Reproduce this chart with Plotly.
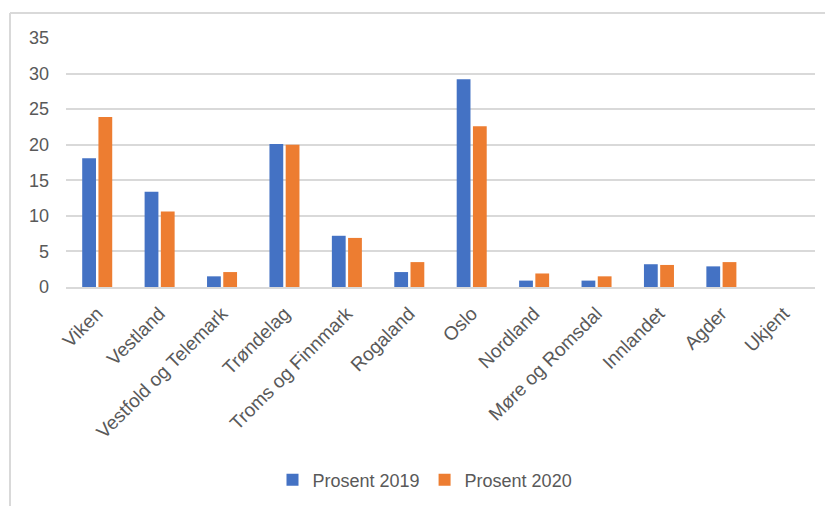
import plotly.graph_objects as go

categories = ["Viken", "Vestland", "Vestfold og Telemark", "Trøndelag", "Troms og Finnmark",
              "Rogaland", "Oslo", "Nordland", "Møre og Romsdal", "Innlandet", "Agder", "Ukjent"]
prosent_2019 = [18.1, 13.4, 1.5, 20.1, 7.2, 2.1, 29.2, 0.9, 0.9, 3.2, 2.9, 0]
prosent_2020 = [23.9, 10.6, 2.1, 20.0, 6.9, 3.5, 22.6, 1.9, 1.5, 3.1, 3.5, 0]
y_ticks = [0, 5, 10, 15, 20, 25, 30, 35]

OFF = 8  # default page body margin
W, H = 833 - OFF, 506 - OFF
# plot area in page pixels: x 66..815, y 38..287
L, T = 66 - OFF, 38 - OFF
R = W - (815 - OFF)
B = H - (287 - OFF)
FONT = "Liberation Sans"
GREY = "#595959"

fig = go.Figure()
fig.add_trace(go.Bar(x=categories, y=prosent_2019, name="Prosent 2019",
                     marker=dict(color="#4472C4", line=dict(width=0))))
fig.add_trace(go.Bar(x=categories, y=prosent_2020, name="Prosent 2020",
                     marker=dict(color="#ED7D31", line=dict(width=0))))

pw, ph = W - L - R, H - T - B
def px2paper(x, y):
    # page pixel -> paper coords
    x -= OFF
    y -= OFF
    return (x - L) / pw, (H - B - y) / ph

x0, y0 = px2paper(10, 13)
x1, y1 = px2paper(840, 520)
fig.add_shape(type="line", xref="paper", yref="paper", x0=x0, y0=y0, x1=x1, y1=y0,
              line=dict(color="#d9d9d9", width=2))
fig.add_shape(type="line", xref="paper", yref="paper", x0=x0, y0=y0, x1=x0, y1=y1,
              line=dict(color="#d9d9d9", width=2))

lx, ly = px2paper(425, 480)
fig.update_layout(
    width=W, height=H,
    margin=dict(l=L, r=R, t=T, b=B, autoexpand=False),
    paper_bgcolor="white", plot_bgcolor="white",
    barmode="group", bargap=0.48, bargroupgap=0.15,
    font=dict(family=FONT, color=GREY),
    showlegend=True,
    legend=dict(orientation="h", x=lx, y=ly, xanchor="center", yanchor="middle",
                font=dict(size=18, color=GREY, family=FONT), itemwidth=30,
                traceorder="normal"),
    xaxis=dict(tickangle=-45, tickfont=dict(size=19, color=GREY, family=FONT),
               showline=True, linecolor="#d9d9d9", linewidth=2, showgrid=False,
               ticks="", fixedrange=True, ticklabelstandoff=6),
    yaxis=dict(range=[0, 35], tickvals=y_ticks, showgrid=True, gridcolor="#d9d9d9",
               gridwidth=2, zeroline=False, showline=False,
               tickfont=dict(size=18, color=GREY, family=FONT),
               ticklabelstandoff=16, ticks=""),
)

fig.write_html("out.html")
